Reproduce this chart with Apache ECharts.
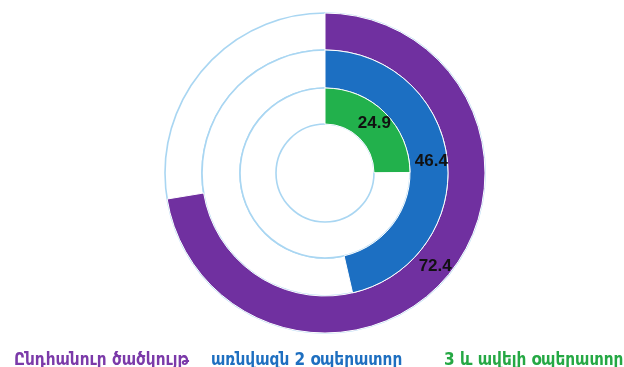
<!DOCTYPE html>
<html>
<head>
<meta charset="utf-8">
<script src="https://cdn.jsdelivr.net/npm/echarts@6/dist/echarts.min.js"></script>
<style>
  html, body { margin: 0; padding: 0; background: #fff; }
  #chart { width: 624px; height: 367px; }
</style>
</head>
<body>
<div id="chart"></div>
<script>
// Coverage shares (percent), outer ring to inner ring
const ringNames = ['Ընդհանուր ծածկույթ', 'առնվազն 2 օպերատոր', '3 և ավելի օպերատոր'];
const ringValues = [72.4, 46.4, 24.9];
const ringTotal = 100;

const ringColors = ['#7030a0', '#1c6fc2', '#22b14c'];
const legendColors = ['#7b3aa9', '#1e6fc0', '#25a844'];
const ringRadii = [[123, 160], [85, 123], [49, 85]];
const legendLeft = [3, 200, 433];
const trackLine = '#a9d6f2';
const center = [325, 173];

const series = [];
ringValues.forEach((v, i) => {
  // track: white ring with thin light-blue outlines
  series.push({
    type: 'pie',
    silent: true,
    z: 1,
    center: center,
    radius: ringRadii[i],
    startAngle: 90,
    label: { show: false },
    labelLine: { show: false },
    itemStyle: { color: '#ffffff', borderColor: trackLine, borderWidth: 1.6 },
    data: [{ value: 1, name: '__track' + i }]
  });
  // filled share
  series.push({
    type: 'pie',
    z: 2,
    center: center,
    radius: ringRadii[i],
    startAngle: 90,
    clockwise: true,
    labelLine: { show: false },
    data: [
      {
        value: v,
        name: ringNames[i],
        itemStyle: { color: ringColors[i], borderColor: '#ffffff', borderWidth: 1 },
        label: {
          show: true,
          position: 'inside',
          formatter: '{c}',
          color: '#111',
          fontFamily: 'Liberation Sans, Arial, sans-serif',
          fontWeight: 'bold',
          fontSize: 17
        }
      },
      {
        value: +(ringTotal - v).toFixed(1),
        name: '__rest' + i,
        itemStyle: { color: 'rgba(0,0,0,0)' },
        label: { show: false },
        emphasis: { disabled: true }
      }
    ]
  });
});

const legends = ringNames.map((n, i) => ({
  left: legendLeft[i],
  top: 347,
  selectedMode: false,
  itemWidth: 0,
  itemHeight: 0,
  data: [{ name: n, textStyle: { color: legendColors[i] } }],
  textStyle: {
    fontFamily: 'DejaVu Sans Condensed, DejaVu Sans, sans-serif',
    fontWeight: 'bold',
    fontSize: 17
  }
}));

const chart = echarts.init(document.getElementById('chart'), null, { renderer: 'canvas' });
chart.setOption({
  animation: false,
  backgroundColor: '#ffffff',
  legend: legends,
  series: series
});
</script>
</body>
</html>
